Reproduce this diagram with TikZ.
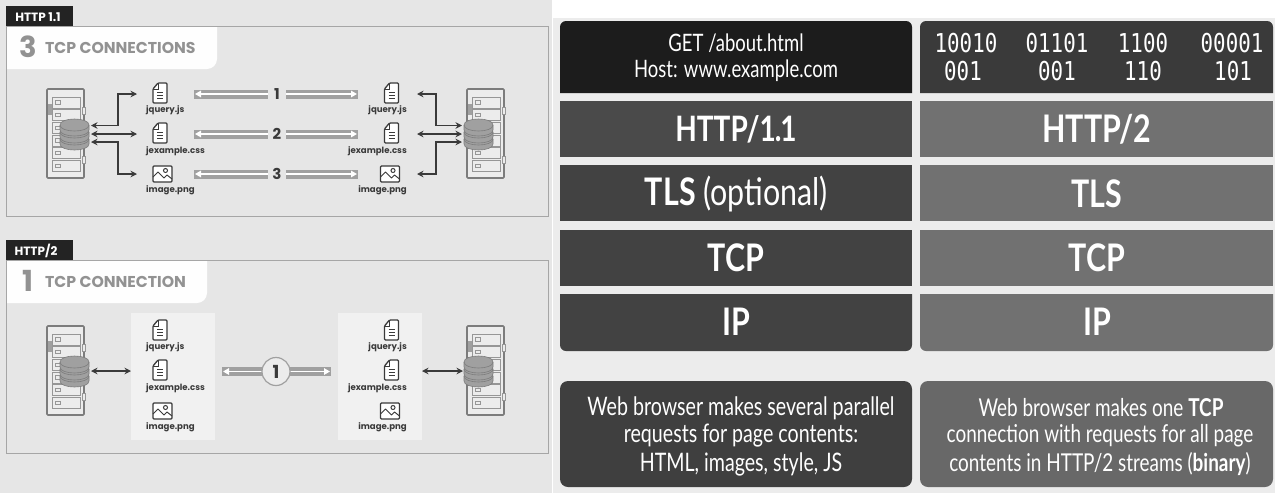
\documentclass[tikz,border=0pt]{standalone}
\usepackage{fontspec}
\usetikzlibrary{arrows.meta}
\setmainfont{Lato}
\newfontfamily\geo{Poppins}
\newfontfamily\cond[FakeStretch=0.8]{Lato}
\newfontfamily\condn[FakeStretch=0.77]{Lato}
\newfontfamily\binfont[FakeStretch=0.8]{DejaVu Sans Mono}
\newcommand{\fs}[1]{\fontsize{#1}{#1}\selectfont}
\definecolor{leftbg}{HTML}{E6E6E6}
\definecolor{rightbg}{HTML}{ECECEC}
\definecolor{tabdark}{HTML}{232323}
\definecolor{frame}{HTML}{A6A6A6}
\definecolor{titlegray}{HTML}{929292}
\definecolor{ink}{HTML}{3A3A3A}
\definecolor{srv}{HTML}{7C7C7C}
\definecolor{drw}{HTML}{969696}
\definecolor{disc}{HTML}{A0A0A0}
\definecolor{barc}{HTML}{A0A0A0}
\definecolor{panel}{HTML}{F1F1F1}
\definecolor{blk}{HTML}{1C1C1C}
\definecolor{lrow}{HTML}{424242}
\definecolor{lrowb}{HTML}{4A4A4A}
\definecolor{rtop}{HTML}{3A3A3A}
\definecolor{rrow}{HTML}{717171}
\definecolor{rnote}{HTML}{686868}
\definecolor{lnote}{HTML}{3F3F3F}
\tikzset{
  x=1pt,y=-1pt,
  conn/.style={draw=ink,line width=1.1pt,{Stealth[length=6.5pt,width=6.5pt]}-{Stealth[length=6.5pt,width=6.5pt]}},
  fname/.style={font=\geo\bfseries\fs{8.6},text=ink,inner sep=0pt},
  tabtxt/.style={font=\geo\bfseries\fs{12},text=white,inner sep=0pt},
  bignum/.style={font=\geo\bfseries\fs{29},text=titlegray,inner sep=0pt},
  headtxt/.style={font=\geo\bfseries\fs{15.7},text=titlegray,inner sep=0pt,anchor=west},
  barnum/.style={font=\geo\bfseries\fs{15},text=ink,inner sep=0pt},
  barout/.style={draw=barc,line width=9pt},
  barin/.style={draw=white,line width=1.4pt,-{Triangle[length=6pt,width=6.5pt]}},
  stack/.style={font=\cond\fs{38},text=white,inner sep=0pt,align=center},
  msg/.style={font=\condn\fs{24},text=white,inner sep=0pt,align=center},
  note/.style={font=\condn\fs{25.5},text=white,inner sep=0pt,align=center},
  noter/.style={font=\condn\fs{24.6},text=white,inner sep=0pt,align=center},
  bin/.style={font=\binfont\fs{26},text=white,inner sep=0pt},
}
\newcommand{\server}[3]{%
 \begin{scope}[shift={(#1,#2)}]
  \draw[srv,line width=1.6pt,fill=rightbg,rounded corners=1pt] (0,0) rectangle (37,89);
  \fill[disc] (1,15) rectangle (4.5,26);
  \foreach \i in {0,1,2,3,4,5}{
    \draw[drw,line width=1pt,fill=rightbg] (5.5,8+12.7*\i) rectangle (33,19+12.7*\i);
    \draw[drw,line width=.8pt] (8,11.5+12.7*\i) rectangle (13,15+12.7*\i);
  }
  \draw[drw,line width=.8pt,fill=rightbg] (35.5,18) rectangle (38,25);
  \draw[drw,line width=.8pt,fill=rightbg] (35.5,67) rectangle (38,74);
  \foreach \y in {50,43,36}{
    \draw[srv,line width=.6pt,fill=disc] (#3-14.5,\y) -- (#3-14.5,\y+5)
      .. controls (#3-14.5,\y+13) and (#3+14.5,\y+13) .. (#3+14.5,\y+5)
      -- (#3+14.5,\y) .. controls (#3+14.5,\y-8) and (#3-14.5,\y-8) .. (#3-14.5,\y) -- cycle;
    \draw[srv,line width=.6pt] (#3-14.5,\y) .. controls (#3-14.5,\y+8) and (#3+14.5,\y+8) .. (#3+14.5,\y);
  }
 \end{scope}}
\newcommand{\fileicon}[2]{%
 \begin{scope}[shift={(#1,#2)}]
  \draw[ink,line width=1.3pt,line join=round,fill=white,rounded corners=1pt] (5,0) -- (14,0) -- (14,20) -- (0,20) -- (0,6) -- cycle;
  \draw[ink,line width=1pt] (5,0) -- (5,6) -- (0,6);
  \foreach \y in {9,12,15}{\draw[ink,line width=1pt] (4,\y) -- (10,\y);}
 \end{scope}}
\newcommand{\imgicon}[2]{%
 \begin{scope}[shift={(#1,#2)}]
  \draw[ink,line width=1.3pt,fill=white,rounded corners=1pt] (0,0) rectangle (19,16);
  \draw[ink,line width=1pt,line join=round] (0,11) -- (5,6) -- (11,12) -- (14,9) -- (19,13);
  \draw[ink,line width=1pt] (12.5,4.5) circle[radius=2];
 \end{scope}}
\newcommand{\leftfiles}[1]{%
 \begin{scope}[shift={(0,#1)}]
  \fileicon{153}{83}\fileicon{153}{123}\imgicon{153}{166}
 \end{scope}}
\newcommand{\rightfiles}[1]{%
 \begin{scope}[shift={(0,#1)}]
  \fileicon{384.5}{83}\fileicon{384.5}{123}\imgicon{380.5}{166}
 \end{scope}}
\begin{document}
\begin{tikzpicture}
\useasboundingbox (0,0) rectangle (1280,493);
% backgrounds
\fill[white] (0,0) rectangle (1280,493);
\fill[leftbg] (0,0) rectangle (552,493);
\fill[rightbg] (553,18) rectangle (1275,493);

% ---- panel HTTP 1.1
\draw[frame,line width=1pt] (6,26) rectangle (548,216);
\fill[tabdark] (6,6) rectangle (73,26);
\node[tabtxt] (tab1) at (38,17) {HTTP 1.1};
\fill[white!97!leftbg] (7,27) -- (217,27) [rounded corners=10pt] -- (217,69) [sharp corners] -- (7,69) -- cycle;
\node[bignum] (big3) at (28,47) {3};
\node[headtxt] (head1) at (45,48) {TCP CONNECTIONS};

\server{47}{89}{27.5}
\server{467}{89}{11.5}
\leftfiles{0}
\rightfiles{0}
\node[fname,anchor=west] (l1) at (146,110) {jquery.js};
\node[fname,anchor=west] (l2) at (146,151) {jexample.css};
\node[fname,anchor=west] (l3) at (146,190) {image.png};
\node[fname,anchor=east] (r1) at (407,110) {jquery.js};
\node[fname,anchor=east] (r2) at (407,151) {jexample.css};
\node[fname,anchor=east] (r3) at (407,190) {image.png};

\coordinate (sl1) at (91,125.5); \coordinate (sl2) at (91,134); \coordinate (sl3) at (91,142);
\coordinate (fl1) at (137,94); \coordinate (fl2) at (137,134); \coordinate (fl3) at (137,174);
\coordinate (vl) at (118,134);
\draw[conn] (sl1) -- (sl1-|vl) -- (vl|-fl1) -- (fl1);
\draw[conn] (sl2) -- (fl2);
\draw[conn] (sl3) -- (sl3-|vl) -- (vl|-fl3) -- (fl3);
\coordinate (sr1) at (462,125.5); \coordinate (sr2) at (462,134); \coordinate (sr3) at (462,142);
\coordinate (fr1) at (417,94); \coordinate (fr2) at (417,134); \coordinate (fr3) at (417,174);
\coordinate (vr) at (436,134);
\draw[conn] (sr1) -- (sr1-|vr) -- (vr|-fr1) -- (fr1);
\draw[conn] (sr2) -- (fr2);
\draw[conn] (sr3) -- (sr3-|vr) -- (vr|-fr3) -- (fr3);

\foreach \n/\y in {1/94,2/134,3/174}{
  \coordinate (ba\n) at (194,\y); \coordinate (bb\n) at (268,\y);
  \coordinate (bc\n) at (286,\y); \coordinate (bd\n) at (358,\y);
  \draw[barout] (ba\n) -- (bb\n);
  \draw[barout] (bc\n) -- (bd\n);
  \draw[barin] (bb\n) -- ([xshift=1pt]ba\n);
  \draw[barin] (bc\n) -- ([xshift=-1pt]bd\n);
  \node[barnum] (num\n) at (277,\y) {\n};
}

% ---- panel HTTP/2
\draw[frame,line width=1pt] (6,260) rectangle (548,453);
\fill[tabdark] (6,240) rectangle (73,260);
\node[tabtxt] (tab2) at (36,251) {HTTP/2};
\fill[white!97!leftbg] (7,261) -- (207,261) [rounded corners=10pt] -- (207,303) [sharp corners] -- (7,303) -- cycle;
\node[bignum] (big1) at (28,281) {1};
\node[headtxt] (head2) at (45,282) {TCP CONNECTION};
\fill[panel] (131,313) rectangle (215,440);
\fill[panel] (338,313) rectangle (422,440);
\server{47}{326}{27.5}
\server{467}{326}{11.5}
\leftfiles{237}
\rightfiles{237}
\node[fname,anchor=west] (l4) at (146,347) {jquery.js};
\node[fname,anchor=west] (l5) at (146,388) {jexample.css};
\node[fname,anchor=west] (l6) at (146,427) {image.png};
\node[fname,anchor=east] (r4) at (407,347) {jquery.js};
\node[fname,anchor=east] (r5) at (407,388) {jexample.css};
\node[fname,anchor=east] (r6) at (407,427) {image.png};
\coordinate (s4) at (91,371); \coordinate (p4) at (131,371);
\coordinate (s5) at (463,371); \coordinate (p5) at (422,371);
\draw[conn] (s4) -- (p4);
\draw[conn] (p5) -- (s5);
\coordinate (bae) at (222,371.5); \coordinate (bde) at (331,371.5);
\draw[barout] (bae) -- (bde);
\draw[barin] (276,371.5) -- ([xshift=1pt]bae);
\draw[barin] (276,371.5) -- ([xshift=-1pt]bde);
\node[draw=barc,fill=rightbg,line width=1.2pt,circle,minimum size=28pt,inner sep=0pt,font=\geo\bfseries\fs{18},text=ink] (numc) at (276,371.5) {1};

% ---- right stacks
\fill[blk] (560,93) [rounded corners=6pt] -- (560,21) -- (912,21) [sharp corners] -- (912,93) -- cycle;
\fill[rtop] (920,93) [rounded corners=6pt] -- (920,21) -- (1273,21) [sharp corners] -- (1273,93) -- cycle;
\fill[lrowb] (560,101) rectangle (912,157);
\fill[rrow] (920,101) rectangle (1273,157);
\fill[lrow] (560,165) rectangle (912,221);
\fill[rrow] (920,165) rectangle (1273,221);
\fill[lrow] (560,230) rectangle (912,286);
\fill[rrow] (920,230) rectangle (1273,286);
\fill[lrow] (560,294) [rounded corners=6pt] -- (560,351) -- (912,351) [sharp corners] -- (912,294) -- cycle;
\fill[rrow] (920,294) [rounded corners=6pt] -- (920,351) -- (1273,351) [sharp corners] -- (1273,294) -- cycle;
\fill[lnote,rounded corners=8pt] (560,381) rectangle (912,487);
\fill[rnote,rounded corners=8pt] (920,381) rectangle (1273,487);

\node[msg] (get) at (736,43) {GET /about.html};
\node[msg] (host) at (736,71) {Host: www.example.com};
\foreach \nm/\tx/\ty/\s in {a/966/43/10010,b/1057/43/01101,c/1143/43/1100,d/1232/43/00001,e/963/71/001,f/1057/71/001,g/1143/71/110,h/1233/71/101}{
  \node[bin] (bin\nm) at (\tx,\ty) {\s};
}
\node[stack] (h11) at (736,129) {\fs{35}\bfseries HTTP/1\kern-.03em.\kern-.03em1};
\node[stack] (h2) at (1097,129) {\bfseries HTTP/2};
\node[stack] (tlsl) at (736.5,194) {{\bfseries TLS} \fs{38}(optional)};
\node[stack] (tlsr) at (1097,194) {\bfseries TLS};
\node[stack] (tcpl) at (736,258) {\bfseries TCP};
\node[stack] (tcpr) at (1097,258) {\bfseries TCP};
\node[stack] (ipl) at (736,322) {\bfseries IP};
\node[stack] (ipr) at (1097,322) {\bfseries IP};
\node[note] (n1) at (741,408) {Web browser makes several parallel};
\node[note] (n2) at (741,436) {requests for page contents:};
\node[note] (n3) at (741,464) {HTML, images, style, JS};
\node[noter] (n4) at (1101,408) {Web browser makes one {\bfseries TCP}};
\node[noter] (n5) at (1100,436) {connection with requests for all page};
\node[noter] (n6) at (1100,464) {contents in HTTP/2 streams ({\bfseries binary})};
\end{tikzpicture}
\end{document}
